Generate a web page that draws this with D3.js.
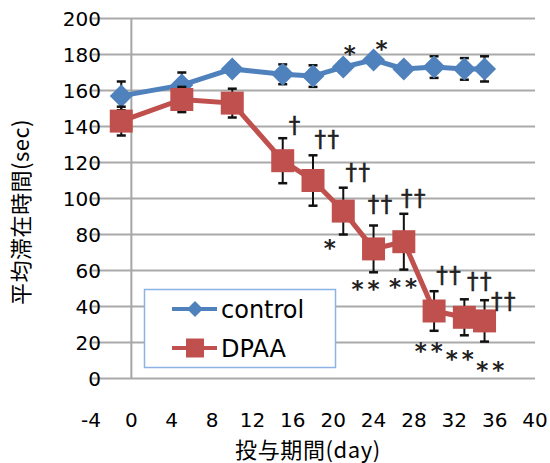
<!DOCTYPE html>
<meta charset="utf-8">
<script src="https://d3js.org/d3.v7.min.js"></script>
<style>
  body { margin: 0; background: #fff; }
  text { fill: #000; }
</style>
<div id="chart"></div>
<script>
// data
var days = [-1, 5, 10, 15, 18, 21, 24, 27, 30, 33, 35];
var controlMean = [157, 163, 172, 169, 168, 173, 177, 172, 173, 172, 172];
var controlErr  = [8, 7, 3, 5.5, 6, 3, 3, 3, 6, 6, 7];
var dpaaMean = [143, 155, 153, 121, 110, 93, 72, 76, 37.5, 34, 32];
var dpaaErr  = [8, 7, 8, 12.5, 14, 13, 13, 15.5, 11, 10, 11.5];
var xTicks = [-4, 0, 4, 8, 12, 16, 20, 24, 28, 32, 36, 40];
var yTicks = [0, 20, 40, 60, 80, 100, 120, 140, 160, 180, 200];
// significance marks: [day, value, label]
var marks = [
  [21.85, 183.8, "*"], [24.98, 186.2, "*"],
  [16.24, 140.3, "†"], [19.44, 132.5, "††"], [22.5, 114, "††"],
  [19.87, 76, "*"], [24.72, 96.4, "††"], [23.4, 53.2, "**"],
  [28.02, 99.7, "††"], [27.13, 54.3, "**"], [31.49, 56.9, "††"],
  [29.67, 18.6, "**"], [34.55, 53.8, "††"], [32.74, 14.3, "**"],
  [36.93, 42.7, "††"], [35.77, 8.1, "**"]
];

var W = 550, H = 463;
var svg = d3.select("#chart").append("svg")
  .attr("width", W).attr("height", H);

var x = d3.scaleLinear().domain([-4, 40]).range([91, 535]);
var y = d3.scaleLinear().domain([0, 200]).range([378.5, 18.5]);

// gridlines
svg.append("g").selectAll("line")
  .data(yTicks).enter().append("line")
  .attr("x1", x(-4)).attr("x2", x(40))
  .attr("y1", function(d) { return y(d); })
  .attr("y2", function(d) { return y(d); })
  .style("stroke", "#aaaaaa").style("stroke-width", 2);

// vertical axis at day 0
svg.append("line")
  .attr("x1", x(0)).attr("x2", x(0))
  .attr("y1", y(200)).attr("y2", y(0))
  .style("stroke", "#a6a6a6").style("stroke-width", 2);

// tick labels
svg.append("g").selectAll("text")
  .data(yTicks).enter().append("text")
  .attr("x", 101)
  .attr("y", function(d) { return y(d) + 7.5; })
  .attr("text-anchor", "end")
  .style("font-family", "DejaVu Sans").style("font-size", "20px")
  .text(function(d) { return d; });

svg.append("g").selectAll("text")
  .data(xTicks).enter().append("text")
  .attr("x", function(d) { return x(d); })
  .attr("y", 426.5)
  .attr("text-anchor", "middle")
  .style("font-family", "DejaVu Sans").style("font-size", "20px")
  .text(function(d) { return d; });

// axis titles
svg.append("text")
  .attr("x", 308).attr("y", 457.5)
  .attr("text-anchor", "middle")
  .style("font-family", "Noto Sans CJK JP").style("font-size", "22px")
  .style("letter-spacing", "0.6px")
  .text("投与期間(day)");

svg.append("text")
  .attr("transform", "translate(28.5,212) rotate(-90)")
  .attr("text-anchor", "middle")
  .style("font-family", "Noto Sans CJK JP").style("font-size", "22px")
  .style("letter-spacing", "0.5px")
  .text("平均滞在時間(sec)");

function diamond(r) {
  return "M0," + (-r) + "L" + r + ",0L0," + r + "L" + (-r) + ",0Z";
}

function drawSeries(means, errs, color, shape) {
  var pts = days.map(function(d, i) { return {d: d, m: means[i], e: errs[i]}; });
  var line = d3.line()
    .x(function(p) { return x(p.d); })
    .y(function(p) { return y(p.m); });
  svg.append("path").datum(pts)
    .attr("d", line)
    .style("fill", "none").style("stroke", color).style("stroke-width", 5);

  var eb = svg.append("g").selectAll("g").data(pts).enter().append("g")
    .style("stroke", "#111").style("stroke-width", 2);
  eb.append("line")
    .attr("x1", function(p) { return x(p.d); }).attr("x2", function(p) { return x(p.d); })
    .attr("y1", function(p) { return y(p.m + p.e); }).attr("y2", function(p) { return y(p.m - p.e); });
  eb.append("line")
    .attr("x1", function(p) { return x(p.d) - 4.5; }).attr("x2", function(p) { return x(p.d) + 4.5; })
    .attr("y1", function(p) { return y(p.m + p.e); }).attr("y2", function(p) { return y(p.m + p.e); })
    .style("stroke-width", 2.5);
  eb.append("line")
    .attr("x1", function(p) { return x(p.d) - 4.5; }).attr("x2", function(p) { return x(p.d) + 4.5; })
    .attr("y1", function(p) { return y(p.m - p.e); }).attr("y2", function(p) { return y(p.m - p.e); })
    .style("stroke-width", 2.5);

  var mk = svg.append("g").selectAll("path").data(pts).enter().append("path")
    .attr("transform", function(p) { return "translate(" + x(p.d) + "," + y(p.m) + ")"; })
    .style("fill", color);
  if (shape == "diamond") mk.attr("d", diamond(11.5));
  else mk.attr("d", "M-11.5,-11.5H11.5V11.5H-11.5Z");
}

drawSeries(controlMean, controlErr, "#4f81bd", "diamond");
drawSeries(dpaaMean, dpaaErr, "#c0504d", "square");

// significance labels
var isStar = function(m) { return m[2].charAt(0) == "*"; };
svg.append("g").selectAll("text")
  .data(marks).enter().append("text")
  .attr("x", function(m) { return x(m[0]); })
  .attr("y", function(m) { return y(m[1]) + (isStar(m) ? 14 : 7); })
  .attr("text-anchor", "middle")
  .style("font-family", "DejaVu Sans")
  .style("font-weight", function(m) { return isStar(m) ? "bold" : "normal"; })
  .style("fill", "#222")
  .style("font-size", function(m) { return isStar(m) ? "23px" : "23px"; })
  .style("letter-spacing", function(m) { return isStar(m) ? "4px" : "1.5px"; })
  .style("stroke", function(m) { return isStar(m) ? "none" : "#222"; })
  .style("stroke-width", 0.5)
  .text(function(m) { return m[2]; });

// legend
var lg = svg.append("g");
lg.append("rect")
  .attr("x", 144.5).attr("y", 289.5).attr("width", 191).attr("height", 78)
  .style("fill", "#fff").style("stroke", "#8db3e2").style("stroke-width", 1.5);
var items = [["control", "#4f81bd", "diamond"], ["DPAA", "#c0504d", "square"]];
items.forEach(function(it, i) {
  var ly = 309 + i * 39;
  lg.append("line")
    .attr("x1", 172).attr("x2", 217).attr("y1", ly).attr("y2", ly)
    .style("stroke", it[1]).style("stroke-width", 4);
  lg.append("path")
    .attr("transform", "translate(195," + ly + ")")
    .attr("d", it[2] == "diamond" ? diamond(8) : "M-9,-9.5H9V9.5H-9Z")
    .style("fill", it[1]);
  lg.append("text")
    .attr("x", 221).attr("y", ly + 9)
    .style("font-family", "DejaVu Sans").style("font-size", "24px")
    .text(it[0]);
});
</script>
